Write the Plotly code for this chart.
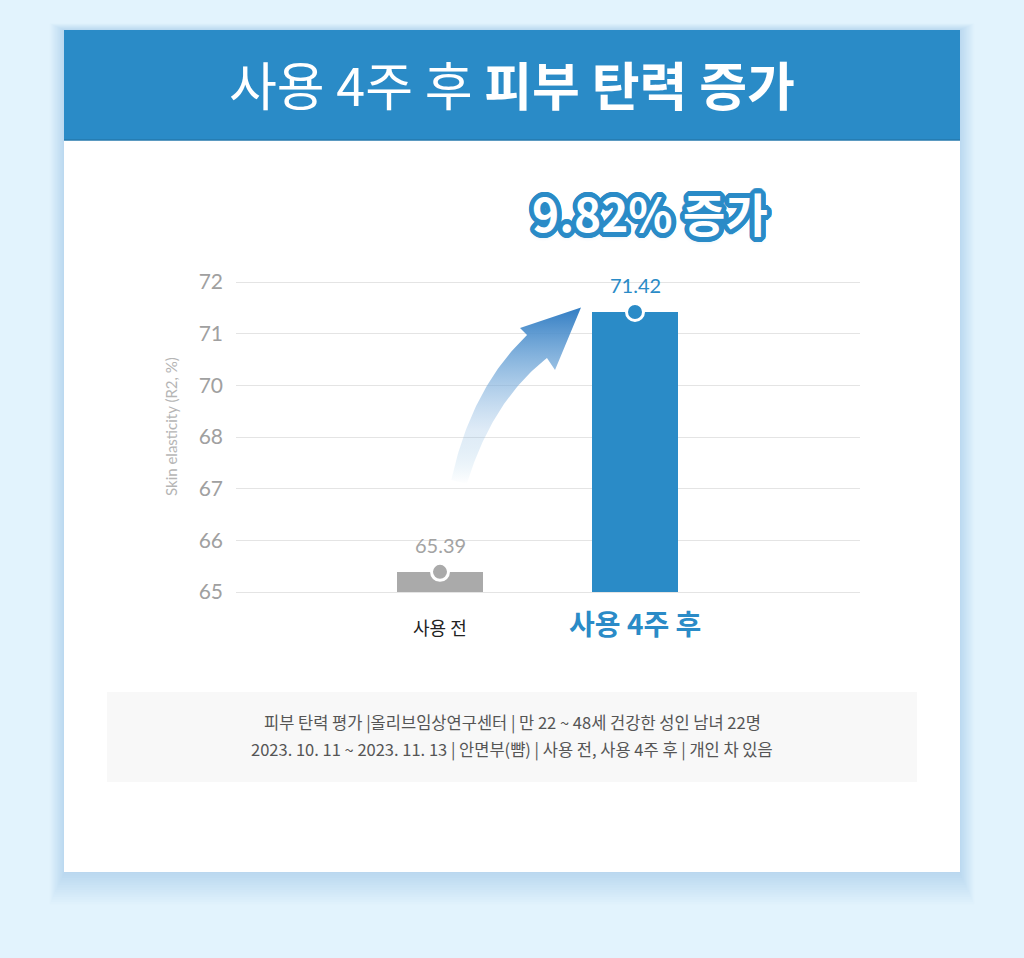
import numpy as np
import plotly.graph_objects as go

# ---------------- data ----------------
categories = ["사용 전", "사용 4주 후"]
values = [65.39, 71.42]
tick_values = [65, 66, 67, 68, 70, 71, 72]   # broken axis: 69 skipped
bar_colors = ["#aaaaaa", "#2a8bc7"]
title_light = "사용 4주 후"
title_bold = "피부 탄력 증가"
increase_text = "9.82% 증가"
y_title = "Skin elasticity (R2, %)"
footer_lines = [
    "피부 탄력 평가 |올리브임상연구센터 | 만 22 ~ 48세 건강한 성인 남녀 22명",
    "2023. 10. 11 ~ 2023. 11. 13 | 안면부(뺨) | 사용 전, 사용 4주 후 | 개인 차 있음",
]

# ------------- layout geometry -------------
W, H = 1024, 958
L, R, T, B = 236, 164, 200, 318
PW, PH = W - L - R, H - T - B
BLUE = "#2a8bc7"

tick_pos = list(range(len(tick_values)))
bar_pos = np.interp(values, tick_values, tick_pos)      # value -> axis position
x_idx = list(range(len(categories)))

U = 51.67            # px per tick step
XU = 195.0           # px per category step
y_range = [-(640 - 592) / U, (len(tick_values) - 1) + (282 - 200) / U]
x_range = [(236 - 440) / XU, (860 - 440) / XU]


def pxp(x):
    return (x - L) / PW


def pyp(y):
    return 1 - (y - T) / PH


def dx(x):  # pixel -> data x
    return x_range[0] + (x - L) / XU


def dy(y):  # pixel -> data y
    return y_range[0] + (T + PH - y) / U


fig = go.Figure()

# ---------- decorative curved arrow (gradient) ----------
P0 = np.array([459.0, 482.0])
P2 = np.array([537.0, 346.5])
C = np.array([481.8, 394.5])
t = np.linspace(0, 1, 50)
pts = ((1 - t)[:, None] ** 2) * P0 + (2 * (1 - t) * t)[:, None] * C + (t ** 2)[:, None] * P2
der = 2 * (1 - t)[:, None] * (C - P0) + 2 * t[:, None] * (P2 - C)
tan = der / np.linalg.norm(der, axis=1)[:, None]
nor = np.stack([-tan[:, 1], tan[:, 0]], axis=1)
wid = 8 + 7.2 * t
edgeA = pts - nor * wid[:, None]
edgeB = pts + nor * wid[:, None]
head = [np.array([520.0, 328.0]), np.array([581.0, 307.5]), np.array([555.0, 370.0])]
poly = np.array(list(edgeA) + head + list(edgeB[::-1]))
fig.add_trace(go.Scatter(
    x=[dx(p) for p in poly[:, 0]], y=[dy(p) for p in poly[:, 1]],
    mode="lines", fill="toself", line=dict(width=0),
    fillgradient=dict(type="vertical",
                      colorscale=[[0, "rgba(42,139,199,0)"], [0.3, "rgba(150,190,228,0.3)"],
                                  [0.7, "rgba(110,165,215,0.8)"], [1, "rgba(50,125,195,1)"]]),
    hoverinfo="skip", showlegend=False))

# ---------- bars ----------
fig.add_trace(go.Bar(
    x=x_idx, y=bar_pos, width=86 / XU,
    marker=dict(color=bar_colors, line=dict(width=0)),
    hoverinfo="skip", showlegend=False))

# dots at bar tops
fig.add_trace(go.Scatter(
    x=x_idx, y=bar_pos, mode="markers",
    marker=dict(size=17, color=bar_colors, line=dict(color="white", width=3)),
    cliponaxis=False, hoverinfo="skip", showlegend=False))

annotations = []
# value labels
for i, (v, p) in enumerate(zip(values, bar_pos)):
    annotations.append(dict(
        x=i, y=p, xref="x", yref="y", text=f"{v:.2f}", showarrow=False,
        xanchor="center", yanchor="middle",
        yshift=27, font=dict(family="Lato", size=20,
                             color="#a3a3a3" if i == 0 else BLUE)))

# category labels
annotations.append(dict(x=0, y=pyp(627), xref="x", yref="paper", text=categories[0],
                        xanchor="center", yanchor="middle",
                        showarrow=False, font=dict(family="Noto Sans CJK KR", size=18, color="#222")))
annotations.append(dict(x=1, y=pyp(623), xref="x", yref="paper", text=f"<b>{categories[1]}</b>",
                        xanchor="center", yanchor="middle",
                        showarrow=False, font=dict(family="Noto Sans CJK KR", size=28, color=BLUE)))

# title
annotations.append(dict(
    x=pxp(512), y=pyp(83), xref="paper", yref="paper",
    xanchor="center", yanchor="middle",
    text=f"{title_light} <b>{title_bold}</b>", showarrow=False,
    font=dict(family="Noto Sans CJK KR", size=52, color="white")))

# big increase text with outline via text-shadow
sh = []
for a in np.arange(0, 360, 15):
    r = np.deg2rad(a)
    sh.append(f"{4.8*np.cos(r):.1f}px {4.8*np.sin(r):.1f}px 0 {BLUE}")
sh.append("0px 3px 5px rgba(42,139,199,0.45)")
annotations.append(dict(
    x=pxp(650), y=pyp(212), xref="paper", yref="paper",
    xanchor="center", yanchor="middle",
    text=f"<b>{increase_text}</b>", showarrow=False,
    font=dict(family="Noto Sans CJK KR", size=46, weight=900, color="white", shadow=", ".join(sh))))

# y axis title
annotations.append(dict(
    x=pxp(171), y=pyp(427), xref="paper", yref="paper", text=y_title, textangle=-90,
    xanchor="center", yanchor="middle",
    showarrow=False, font=dict(family="Lato", size=15, color="#b5b5b5")))

# footer text
for k, line in enumerate(footer_lines):
    annotations.append(dict(
        x=pxp(512), y=pyp(722 + 27 * k), xref="paper", yref="paper", text=line,
        xanchor="center", yanchor="middle",
        showarrow=False, font=dict(family="Noto Sans CJK KR", size=16.5, color="#555")))

shapes = []
# soft card shadow
for k in range(14):
    shapes.append(dict(type="rect", xref="paper", yref="paper", layer="below",
                       x0=pxp(64 - k * 1.1), x1=pxp(960 + k * 1.1),
                       y0=pyp(872 + 1 + k * 2.4), y1=pyp(30 - k * 0.5),
                       fillcolor="rgba(90,130,170,0.016)", line=dict(width=0)))
# card
shapes.append(dict(type="rect", xref="paper", yref="paper", layer="below",
                   x0=pxp(64), x1=pxp(960), y0=pyp(872), y1=pyp(30),
                   fillcolor="white", line=dict(width=0)))
# header
shapes.append(dict(type="rect", xref="paper", yref="paper", layer="below",
                   x0=pxp(64), x1=pxp(960), y0=pyp(140), y1=pyp(30),
                   fillcolor=BLUE, line=dict(width=0)))
shapes.append(dict(type="line", xref="paper", yref="paper", layer="below",
                   x0=pxp(64), x1=pxp(960), y0=pyp(140), y1=pyp(140),
                   line=dict(color="#2479ad", width=1.5)))
# footer box
shapes.append(dict(type="rect", xref="paper", yref="paper", layer="below",
                   x0=pxp(107), x1=pxp(917), y0=pyp(782), y1=pyp(692),
                   fillcolor="#f8f8f8", line=dict(width=0)))

fig.update_layout(
    width=W, height=H, margin=dict(l=L, r=R, t=T, b=B, pad=0),
    paper_bgcolor="#e2f3fd", plot_bgcolor="rgba(0,0,0,0)",
    showlegend=False, annotations=annotations, shapes=shapes,
    xaxis=dict(range=x_range, showgrid=False, zeroline=False, showticklabels=False,
               showline=False, fixedrange=True),
    yaxis=dict(range=y_range, tickmode="array", tickvals=tick_pos,
               ticktext=[str(v) for v in tick_values], showgrid=True,
               gridcolor="#e4e4e4", gridwidth=1, zeroline=False, showline=False,
               ticks="", ticklabelstandoff=12,
               tickfont=dict(family="Lato", size=21, color="#a0a0a0"), fixedrange=True),
    bargap=0,
)

fig.write_html("out.html")
